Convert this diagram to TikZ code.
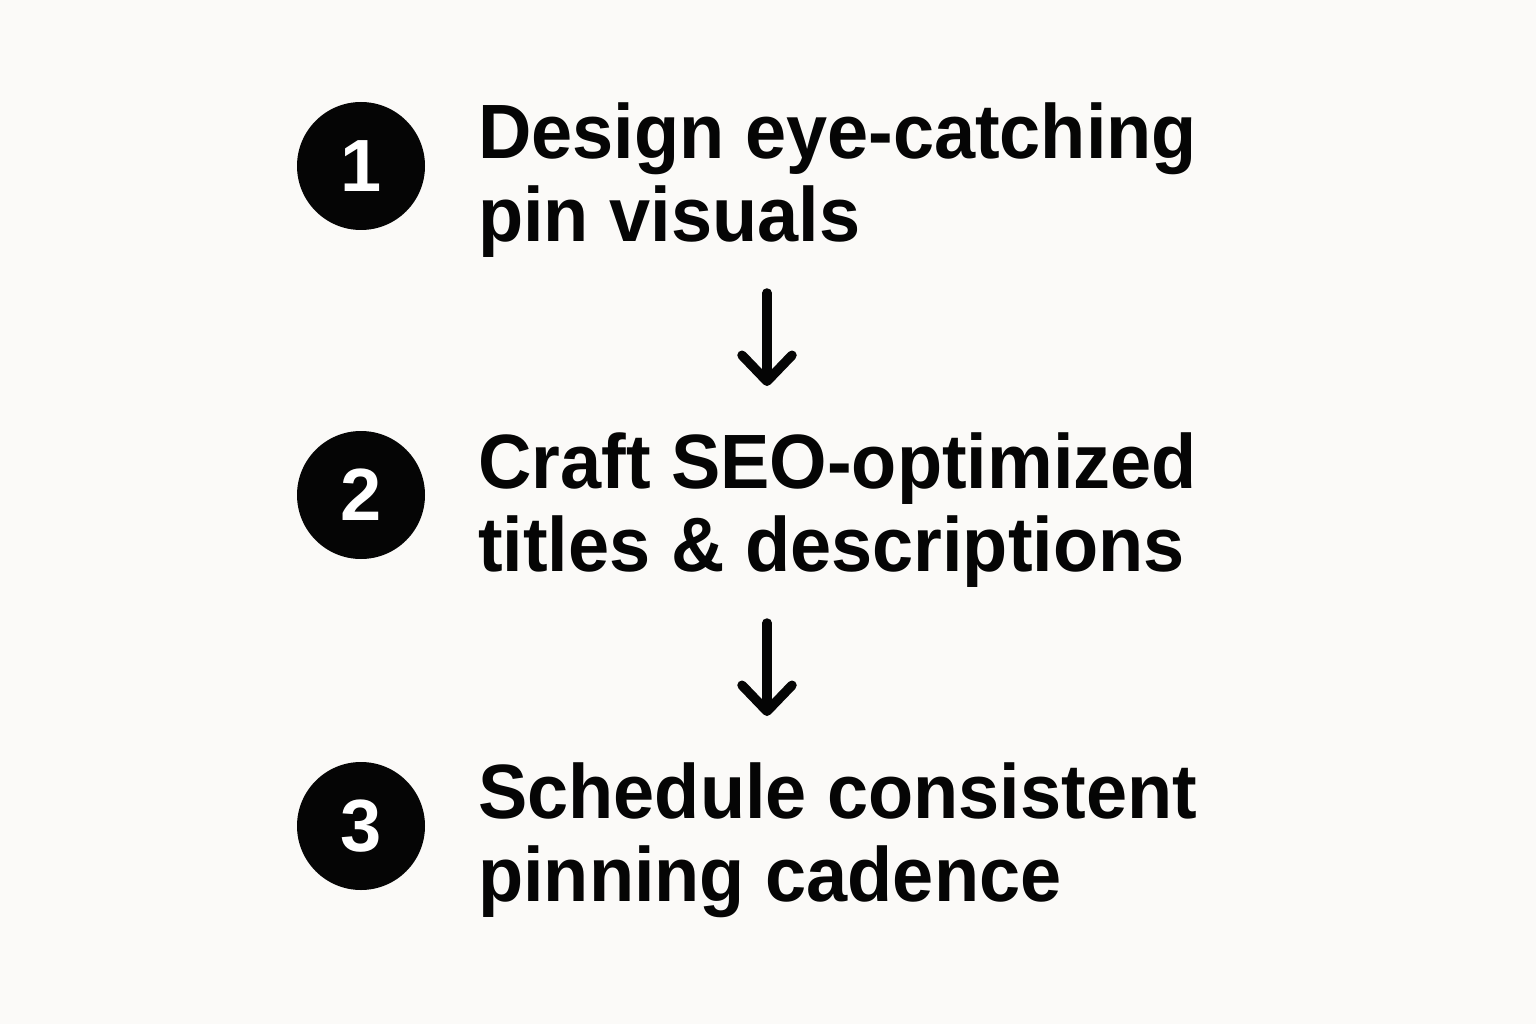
\documentclass[tikz,border=0pt]{standalone}
\usepackage{fontspec}
\setmainfont{Liberation Sans}
\newfontfamily\stepfont{Liberation Sans}[FakeStretch=0.96]
\usetikzlibrary{arrows.meta}
\definecolor{bg}{HTML}{FBFAF8}
\definecolor{ink}{HTML}{050505}
\tikzset{
  stepnum/.style={circle, fill=ink, minimum size=128pt, inner sep=0pt, text=white,
    font=\fontsize{74}{74}\selectfont\bfseries},
  steptext/.style={anchor=base west, align=left, inner sep=0pt, text=ink,
    font=\stepfont\fontsize{77}{83}\selectfont\bfseries},
  flow/.style={draw=ink, line width=9.5pt, line cap=round,
    -{Straight Barb[length=26pt, width=50pt, line cap=round, line join=round]}}
}
\begin{document}
\begin{tikzpicture}[x=1pt,y=-1pt]
\fill[bg] (0,0) rectangle (1536,1024);
\useasboundingbox (0,0) rectangle (1536,1024);
\node[stepnum] (n1) at (361,166) {1};
\node[stepnum] (n2) at (361,495) {2};
\node[stepnum] (n3) at (361,826) {3};
\node[steptext] (t1) at (478,242) {Design eye-catching\\pin visuals};
\node[steptext] (t2) at (478,571) {Craft SEO-optimized\\titles \& descriptions};
\node[steptext] (t3) at (478,901) {Schedule consistent\\pinning cadence};
\coordinate (a1s) at (767,293);
\coordinate (a1e) at (767,386);
\coordinate (a2s) at (767,623);
\coordinate (a2e) at (767,716);
\draw[flow] (a1s) -- (a1e);
\draw[flow] (a2s) -- (a2e);
\end{tikzpicture}
\end{document}
